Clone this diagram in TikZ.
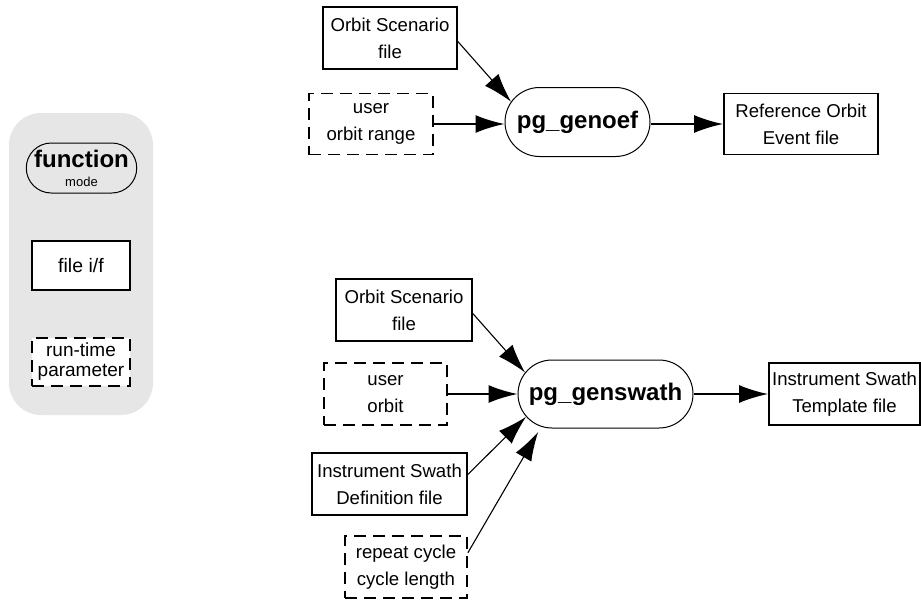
\documentclass[tikz,border=0pt]{standalone}
\usepackage{fontspec}
\setmainfont{Liberation Sans}
\usetikzlibrary{arrows.meta,shapes.misc}
\definecolor{legendbg}{RGB}{230,230,230}
\begin{document}
\begin{tikzpicture}[x=1pt,y=-1pt,
  box/.style={draw, line width=1.8pt, rectangle, inner sep=0pt, align=center,
    font=\fontsize{18.6}{27}\selectfont},
  parbox/.style={box, dash pattern=on 12pt off 7pt},
  func/.style={draw, line width=1pt, rounded rectangle, inner sep=0pt,
    font=\fontsize{24}{24}\selectfont\bfseries},
  arr/.style={-{Latex[length=29pt,width=18pt]}, line width=1.8pt},
  darr/.style={arr, line width=1.1pt}]
\useasboundingbox (0,0) rectangle (921,600);

% legend
\node[fill=legendbg, rounded corners=32pt, minimum width=144pt, minimum height=302pt, inner sep=0pt] (legend) at (81,264) {};
\node[func, minimum width=109pt, minimum height=50pt, align=center] (fn) at (81.5,168)
  {function\\[-5pt]{\fontsize{13}{13}\selectfont\mdseries mode}};
\node[box, fill=white, minimum width=98pt, minimum height=49pt, font=\fontsize{19.5}{22}\selectfont] (fif) at (81,265.5) {file i/f};
\node[parbox, fill=white, minimum width=98pt, minimum height=48pt, font=\fontsize{19}{20}\selectfont] (rtp) at (81,362) {run-time\\parameter};

% top group
\node[box, minimum width=134pt, minimum height=62pt] (os1) at (390,38) {Orbit Scenario\\file};
\node[parbox, minimum width=124pt, minimum height=61pt] (uor) at (371,124) {user\\orbit range};
\node[func, minimum width=145pt, minimum height=69pt] (genoef) at (577.5,122) {pg\_genoef};
\node[box, minimum width=154pt, minimum height=61pt] (ref) at (801,124) {Reference Orbit\\Event file};

\draw[darr] (os1.-3) -- (genoef.163);
\draw[arr] (uor.east) -- (uor.east -| genoef.west);
\draw[arr] (genoef.east |- ref.west) -- (ref.west);

% bottom group
\node[box, minimum width=136pt, minimum height=62pt] (os2) at (404,310) {Orbit Scenario\\file};
\node[parbox, minimum width=123pt, minimum height=62pt] (uo) at (385.5,394) {user\\orbit};
\node[func, minimum width=175pt, minimum height=68pt] (gensw) at (605.5,394) {pg\_genswath};
\node[box, minimum width=151pt, minimum height=62pt] (tmpl) at (844.5,394) {Instrument Swath\\Template file};
\node[box, minimum width=155pt, minimum height=62pt] (isd) at (389.5,484) {Instrument Swath\\Definition file};
\node[parbox, minimum width=122pt, minimum height=62pt] (rc) at (406,567) {repeat cycle\\cycle length};

\draw[darr] (os2.-3) -- (gensw.165);
\draw[arr] (uo.east) -- (gensw.west);
\draw[darr] (isd.7) -- (gensw.196);
\draw[darr, shorten >=6pt] (rc.13) -- (gensw.207);
\draw[arr] (gensw.east) -- (tmpl.west);
\end{tikzpicture}
\end{document}
